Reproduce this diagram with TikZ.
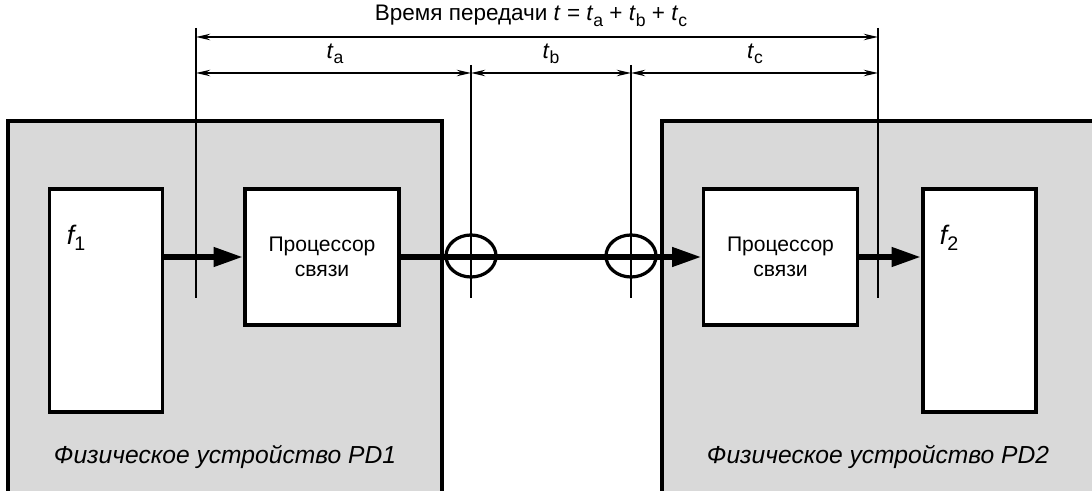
\documentclass[tikz,border=0pt]{standalone}
\usepackage{fontspec}
\setmainfont{Liberation Sans}
\usepackage{tikz}
\usetikzlibrary{arrows.meta,shapes.geometric}

\newcommand{\lowidx}[2]{\raisebox{-0.45ex}{\fontsize{#1}{#1}\selectfont\upshape #2}}
\newcommand{\tsub}[1]{\textit{t}\lowidx{12.5}{#1}}

\tikzset{
  device/.style={draw=black,line width=2.8pt,fill=black!15},
  block/.style={draw=black,line width=2.6pt,fill=white,inner sep=0pt},
  coupler/.style={draw=black,ellipse,line width=2.3pt,inner sep=0pt,minimum width=1.25cm,minimum height=1.05cm},
  flow/.style={line width=4.4pt,-{Triangle[length=21pt,width=13pt]}},
  tick/.style={line width=1.5pt},
  dim/.style={line width=1.4pt,{Stealth[length=10pt,width=4.5pt]}-{Stealth[length=10pt,width=4.5pt]}},
  proctext/.style={align=center,font=\fontsize{15}{17.5}\selectfont},
  devtext/.style={font=\fontsize{17.5}{20}\selectfont\itshape},
  dimtext/.style={font=\fontsize{16}{18}\selectfont},
}

\begin{document}
\begin{tikzpicture}[x=0.025cm,y=-0.025cm]

\useasboundingbox (0,0) rectangle (1092,491);

% physical devices
\draw [device] (8,121) rectangle (442,505);
\draw [device] (662,121) rectangle (1110,505);

\node [devtext] (pd1) at (225,457) {Физическое устройство PD1};
\node [devtext] (pd2) at (878,457) {Физическое устройство PD2};

% function blocks and processors
\node [block,minimum width=2.825cm,minimum height=5.575cm] (f1) at (106,300.5) {};
\node [block,minimum width=3.85cm,minimum height=3.4cm,proctext] (proc1) at (322,257) {Процессор\\связи};
\node [block,minimum width=3.85cm,minimum height=3.4cm,proctext] (proc2) at (780.5,257) {Процессор\\связи};
\node [block,minimum width=2.825cm,minimum height=5.575cm] (f2) at (979.5,300.5) {};

\node [devtext,font=\fontsize{19}{21}\selectfont\itshape,anchor=west] (f1name) at (62,238) {f\lowidx{14}{1}};
\node [devtext,font=\fontsize{19}{21}\selectfont\itshape,anchor=west] (f2name) at (935,238) {f\lowidx{14}{2}};

% data path
\draw [flow] (f1.east |- proc1) -- (proc1.west);
\draw [flow] (proc1.east) -- (proc2.west);
\draw [flow] (proc2.east) -- (f2.west |- proc2);

\node [coupler] (c1) at (471,256) {};
\node [coupler] (c2) at (631,256) {};

% time marks
\coordinate (m1) at (196,28);
\coordinate (m2) at (471,65);
\coordinate (m3) at (631,65);
\coordinate (m4) at (878,28);

\draw [tick] (m1) -- (196,298);
\draw [tick] (m2) -- (471,298);
\draw [tick] (m3) -- (631,298);
\draw [tick] (m4) -- (878,298);

\draw [dim] (m1 |- 0,37) -- (m4 |- 0,37);
\draw [dim] (m1 |- 0,73) -- (m2 |- 0,73);
\draw [dim] (m2 |- 0,73) -- (m3 |- 0,73);
\draw [dim] (m3 |- 0,73) -- (m4 |- 0,73);

\node [dimtext] (total) at (531,16) {Время передачи \textit{t} = \tsub{a} + \tsub{b} + \tsub{c}};
\node [dimtext] (ta) at (335,54) {\tsub{a}};
\node [dimtext] (tb) at (551,54) {\tsub{b}};
\node [dimtext] (tc) at (755,54) {\tsub{c}};

\end{tikzpicture}
\end{document}
